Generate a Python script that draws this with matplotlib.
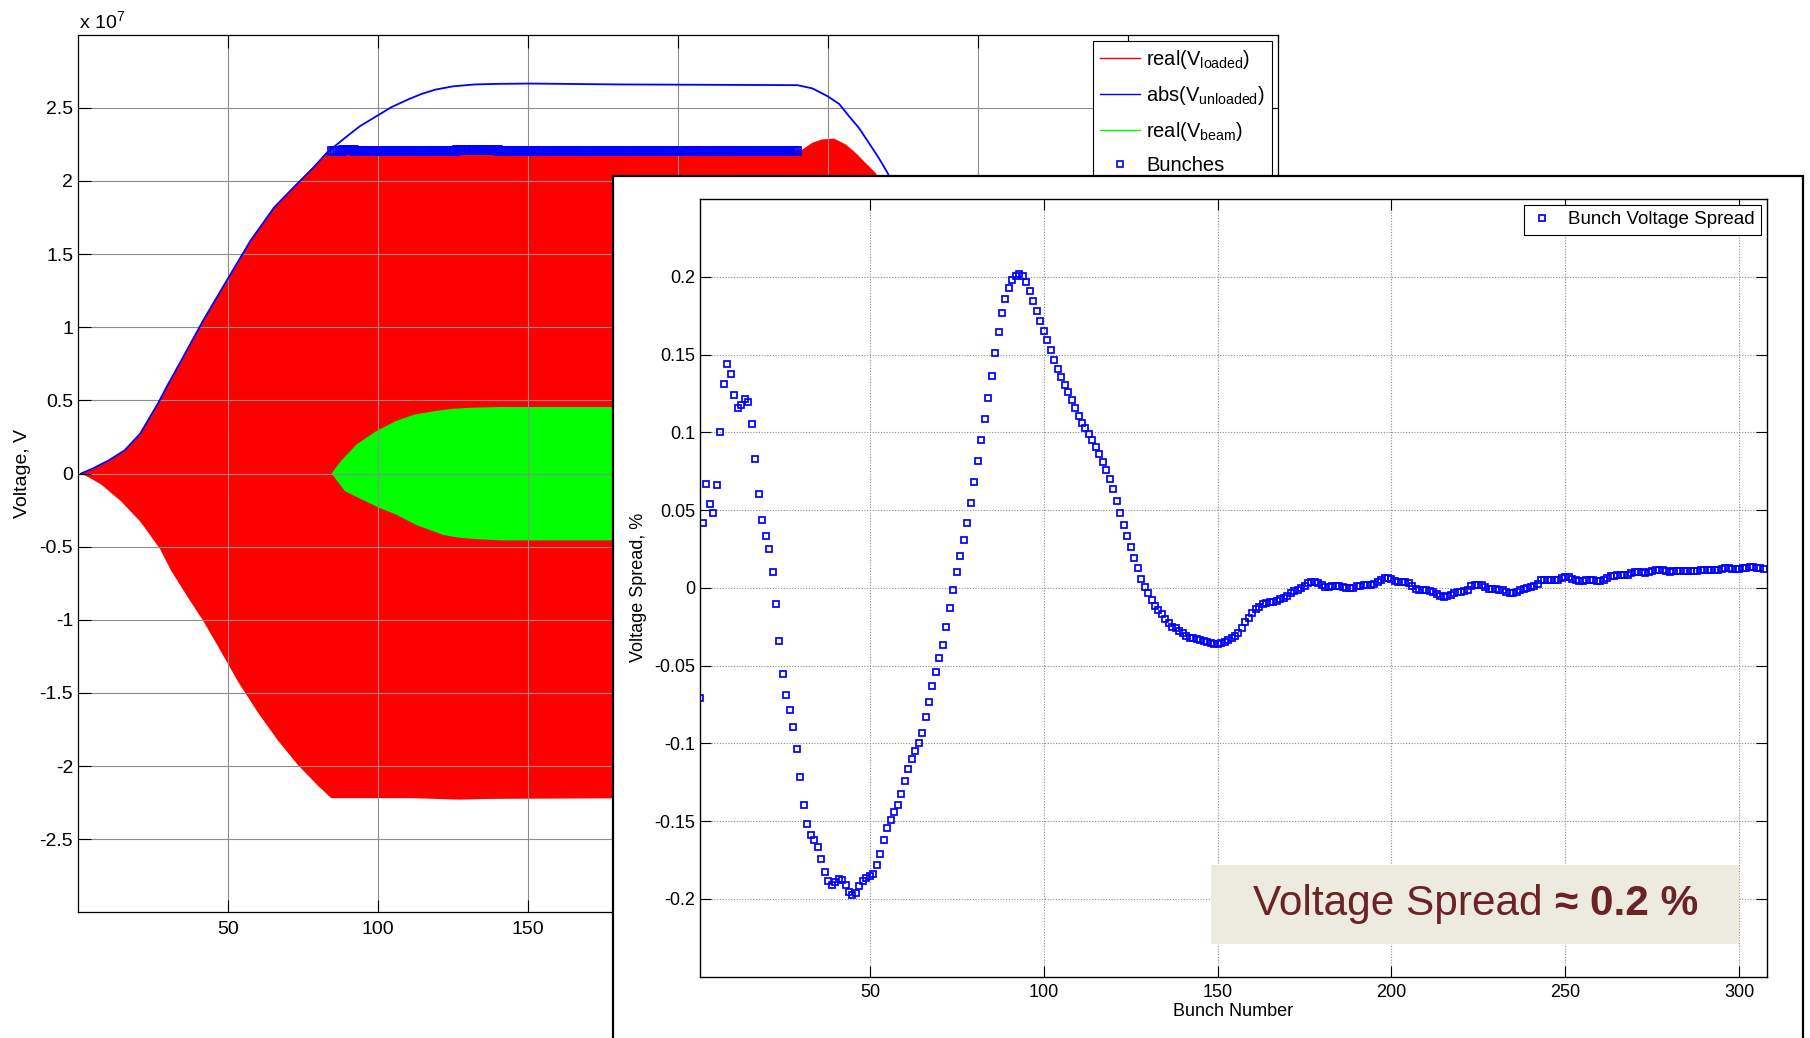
import matplotlib
matplotlib.use("Agg")
import matplotlib.pyplot as plt
import numpy as np
from matplotlib.patches import Rectangle
from matplotlib.lines import Line2D
from matplotlib.text import Annotation
from matplotlib.ticker import FuncFormatter

plt.rcParams['font.family'] = ['Liberation Sans', 'DejaVu Sans']
plt.rcParams['mathtext.fontset'] = 'custom'
plt.rcParams['mathtext.rm'] = 'Liberation Sans'
plt.rcParams['mathtext.it'] = 'Liberation Sans:italic'
plt.rcParams['axes.unicode_minus'] = False

# ---- back plot: cavity voltage envelopes (x 1e7 V)
t_unloaded = [1, 5, 10.2, 15.5, 20.7, 23.5, 26.6, 30, 33.8, 41.7, 49.6, 57.5, 65.4, 71.9, 78.5, 83.1,
              89, 94, 99.5, 104.5, 110, 114.5, 119.2, 125, 132.3, 140, 150.7, 180.6, 239.8, 244.8,
              249.8, 253.7, 257, 260.3, 263.6, 266.9, 270, 280, 300, 330, 370, 400]
v_unloaded = [0, 0.035, 0.09, 0.158, 0.272, 0.37, 0.477, 0.61, 0.75, 1.046, 1.32, 1.592, 1.82, 1.957,
              2.093, 2.196, 2.295, 2.375, 2.443, 2.505, 2.557, 2.595, 2.625, 2.647, 2.66, 2.664,
              2.666, 2.66, 2.655, 2.633, 2.58, 2.527, 2.443, 2.363, 2.261, 2.158, 2.05, 1.6, 0.9,
              0.35, 0.08, 0.03]

t_loaded_top = [1, 5, 10.2, 15.5, 20.7, 23.5, 26.6, 30, 33.8, 41.7, 49.6, 57.5, 65.4, 71.9, 78.5, 83.1,
                100, 130, 160, 200, 241.5, 244.8, 248, 252, 255.9, 259.2, 262.5, 265.3, 268,
                275, 290, 320, 360, 400]
v_loaded_top = [0, 0.03, 0.087, 0.155, 0.269, 0.367, 0.474, 0.607, 0.747, 1.043, 1.316, 1.589, 1.817,
                1.954, 2.09, 2.19, 2.185, 2.19, 2.19, 2.19, 2.216, 2.261, 2.284, 2.29, 2.25, 2.193,
                2.124, 2.068, 2.0, 1.75, 1.2, 0.6, 0.25, 0.1]
t_loaded_bot = [1, 3.5, 7.6, 14.2, 20.7, 24, 27.3, 31.2, 36.5, 41.7, 47, 53.5, 60.1, 66.7, 73.2,
                79.8, 84.4, 111.3, 127, 137.6, 180, 241.5, 260, 290, 330, 400]
v_loaded_bot = [0, -0.025, -0.073, -0.187, -0.327, -0.42, -0.514, -0.67, -0.842, -1.006, -1.193,
                -1.428, -1.638, -1.826, -1.99, -2.13, -2.219, -2.219, -2.229, -2.224, -2.22, -2.22,
                -2.1, -1.2, -0.5, -0.1]

t_beam_top = [84.5, 87.7, 92.9, 99.5, 106.1, 112, 119.2, 125, 132.3, 141.5, 241.5, 260, 290, 330]
v_beam_top = [0, 0.087, 0.2, 0.291, 0.36, 0.402, 0.428, 0.443, 0.451, 0.455, 0.455, 0.35, 0.15, 0.03]
t_beam_bot = [84.5, 89, 95.5, 100.5, 106, 112.6, 121.8, 127, 132.3, 141.5, 241.5, 260, 290, 330]
v_beam_bot = [0, -0.12, -0.186, -0.235, -0.28, -0.35, -0.42, -0.438, -0.448, -0.457, -0.457,
              -0.35, -0.15, -0.03]

# bunch train on the back plot
bunch_t_first = 84.8
bunch_t_last = 239.7
v_bunch_nominal = 2.206  # x 1e7 V

# ---- inset: bunch voltage spread, % (one value per bunch)
spread = [
    -0.0705, 0.042, 0.0667, 0.054, 0.0479, 0.0663, 0.1005, 0.1311, 0.1436, 0.1373,
    0.124, 0.1158, 0.1177, 0.1217, 0.1198, 0.1054, 0.0828, 0.0601, 0.0434, 0.0335,
    0.0248, 0.0104, -0.0106, -0.0344, -0.0552, -0.0691, -0.0788, -0.0894, -0.1038, -0.1219,
    -0.1396, -0.1521, -0.1587, -0.1623, -0.1667, -0.1743, -0.1825, -0.1887, -0.1908, -0.1889,
    -0.1873, -0.1877, -0.1908, -0.1953, -0.1972, -0.196, -0.1917, -0.1884, -0.1868, -0.1854,
    -0.184, -0.1783, -0.171, -0.162, -0.1543, -0.149, -0.1443, -0.1394, -0.1328, -0.1243,
    -0.1166, -0.1102, -0.1049, -0.0995, -0.0931, -0.0832, -0.0731, -0.0628, -0.0541, -0.0452,
    -0.0365, -0.0254, -0.0132, -0.0013, 0.0105, 0.0207, 0.031, 0.042, 0.0546, 0.0681,
    0.0817, 0.0951, 0.1086, 0.1218, 0.1361, 0.151, 0.1648, 0.1766, 0.1857, 0.193,
    0.1979, 0.2008, 0.2017, 0.2006, 0.1964, 0.1908, 0.1844, 0.178, 0.1714, 0.1653,
    0.1592, 0.1527, 0.1466, 0.1406, 0.1355, 0.1305, 0.1258, 0.1207, 0.1154, 0.1106,
    0.1062, 0.103, 0.0991, 0.0951, 0.0908, 0.086, 0.0808, 0.0757, 0.07, 0.0636,
    0.0561, 0.0482, 0.0403, 0.0333, 0.026, 0.0194, 0.0126, 0.006, 0.0007, -0.0036,
    -0.0075, -0.0117, -0.0143, -0.017, -0.0202, -0.0228, -0.025, -0.026, -0.0277, -0.0292,
    -0.0309, -0.032, -0.0324, -0.033, -0.0335, -0.0341, -0.0345, -0.0352, -0.036, -0.036,
    -0.0356, -0.0345, -0.0335, -0.0324, -0.0309, -0.029, -0.026, -0.0222, -0.0196, -0.016,
    -0.0136, -0.0121, -0.0104, -0.0096, -0.0091, -0.0089, -0.0085, -0.0074, -0.0068, -0.0053,
    -0.0036, -0.0021, -0.0011, 0.0, 0.0013, 0.0028, 0.0036, 0.004, 0.0032, 0.0021,
    0.0006, 0.0006, 0.0009, 0.0011, 0.0009, 0.0004, 0.0, -0.0004, 0.0, 0.0009,
    0.0015, 0.0019, 0.0021, 0.0021, 0.0023, 0.0036, 0.0053, 0.0062, 0.0064, 0.006,
    0.0047, 0.0038, 0.0036, 0.0036, 0.0034, 0.0015, -0.0006, -0.0015, -0.0017, -0.0017,
    -0.0019, -0.0026, -0.004, -0.0053, -0.0058, -0.0053, -0.0043, -0.003, -0.0026, -0.0026,
    -0.0021, -0.0011, 0.0011, 0.0021, 0.0021, 0.0019, 0.0006, -0.0006, -0.0009, -0.0009,
    -0.0011, -0.0015, -0.0028, -0.0036, -0.0034, -0.0026, -0.0015, -0.0009, -0.0002, 0.0004,
    0.0013, 0.0026, 0.0049, 0.0049, 0.0049, 0.0049, 0.0051, 0.0053, 0.0062, 0.007,
    0.007, 0.0058, 0.0049, 0.0047, 0.0047, 0.0049, 0.0051, 0.0051, 0.0047, 0.0045,
    0.0049, 0.0062, 0.0075, 0.0079, 0.0081, 0.0081, 0.0081, 0.0083, 0.0096, 0.0102,
    0.0102, 0.01, 0.0098, 0.01, 0.0107, 0.0115, 0.0117, 0.0115, 0.0107, 0.0102,
    0.0107, 0.0111, 0.0111, 0.0111, 0.0109, 0.0107, 0.0107, 0.0109, 0.0113, 0.0115,
    0.0115, 0.0113, 0.0113, 0.0115, 0.0122, 0.0126, 0.0126, 0.0124, 0.0124, 0.0124,
    0.0126, 0.013, 0.0132, 0.0132, 0.013, 0.0126, 0.012,
]

back_xticks = [50, 100, 150, 200, 250, 300, 350, 400]
back_yticks = [-2.5, -2, -1.5, -1, -0.5, 0, 0.5, 1, 1.5, 2, 2.5]
inset_xticks = [50, 100, 150, 200, 250, 300]
inset_yticks = [-0.2, -0.15, -0.1, -0.05, 0, 0.05, 0.1, 0.15, 0.2]

W, H = 1810, 1038
fig = plt.figure(figsize=(W / 100, H / 100), dpi=100)


def fx(px):
    return px / W


def fy(py):
    return 1 - py / H


RED, GREEN, BLUE = (1, 0, 0), (0, 1, 0), (0, 0, 1)
E7 = 1e7

# ---------------- back axes
ax = fig.add_axes([fx(78), fy(912.4), fx(1200), 877.7 / H], zorder=0)
ax.fill(np.r_[t_loaded_top, t_loaded_bot[::-1]],
        np.r_[v_loaded_top, v_loaded_bot[::-1]] * E7, color=RED, lw=0)
ax.fill(np.r_[t_beam_top, t_beam_bot[::-1]],
        np.r_[v_beam_top, v_beam_bot[::-1]] * E7, color=GREEN, lw=0)
ax.plot(t_unloaded, np.array(v_unloaded) * E7, color=BLUE, lw=1.3)

n_bunch = len(spread)
bunch_t = bunch_t_first + (bunch_t_last - bunch_t_first) * np.arange(n_bunch) / (n_bunch - 1)
bunch_v = v_bunch_nominal * E7 * (1 + np.array(spread) / 100)
ax.plot(bunch_t, bunch_v, ls='none', marker='s', ms=5.5, mfc='none', mec=BLUE, mew=1.2)

ax.set_xlim(0, 400)
ax.set_ylim(-3e7, 3e7)
ax.set_xticks(back_xticks)
ax.set_yticks(np.array(back_yticks) * E7)
ax.yaxis.set_major_formatter(FuncFormatter(lambda v, p: f'{v / E7 + 0.0:g}'))
ax.tick_params(direction='in', top=True, right=True, length=9, width=0.8, labelsize=14)
ax.tick_params(axis='y', pad=3.5)
ax.tick_params(axis='x', pad=6.5)
ax.grid(True, color='#8c8c8c', lw=0.8)
for s in ax.spines.values():
    s.set_linewidth(0.9)
ax.set_ylabel('Voltage, V', fontsize=14, labelpad=6)
fig.text(fx(79), fy(28.3), r'x 10$^{\mathregular{7}}$', fontsize=14, va='baseline')

handles = [Line2D([], [], color=RED, lw=1),
           Line2D([], [], color=BLUE, lw=1),
           Line2D([], [], color=GREEN, lw=1),
           Line2D([], [], ls='none', marker='s', ms=4.5, mfc='none', mec=BLUE, mew=1.2)]
labels = [r'real($\mathregular{V_{loaded}}$)', r'abs($\mathregular{V_{unloaded}}$)',
          r'real($\mathregular{V_{beam}}$)', 'Bunches']
leg = ax.legend(handles, labels, loc='upper right', fontsize=14.5, fancybox=False,
                edgecolor='black', framealpha=1, borderaxespad=0.3, borderpad=0.35,
                handlelength=2.0, handletextpad=0.3, labelspacing=0.65)
leg.get_frame().set_linewidth(0.8)

# ---------------- inset panel
fig.add_artist(Rectangle((fx(613), fy(1045)), fx(1190), (1045 - 176) / H,
                         transform=fig.transFigure, facecolor='white', edgecolor='black',
                         lw=1.6, zorder=1))

ax2 = fig.add_axes([fx(699.5), fy(976.7), fx(1067.5), 777.7 / H], zorder=2)
bunch_no = np.arange(1, n_bunch + 1)
ax2.plot(bunch_no, spread, ls='none', marker='s', ms=4.5, mfc='none', mec=BLUE, mew=1.25,
         label='Bunch Voltage Spread')
ax2.set_xlim(1, 308)
ax2.set_ylim(-0.25, 0.25)
ax2.set_xticks(inset_xticks)
ax2.set_yticks(inset_yticks)
ax2.yaxis.set_major_formatter(FuncFormatter(lambda v, p: f'{round(v, 3) + 0.0:g}'))
ax2.tick_params(direction='in', top=True, right=True, length=8, width=0.8, labelsize=13)
ax2.tick_params(axis='y', pad=3)
ax2.tick_params(axis='x', pad=5)
ax2.grid(True, color='#8a8a8a', lw=0.8, ls=(0, (1, 1.5)))
for s in ax2.spines.values():
    s.set_linewidth(1.0)
ax2.set_xlabel('Bunch Number', fontsize=13, labelpad=2)
ax2.set_ylabel('Voltage Spread, %', fontsize=13, labelpad=5)
leg2 = ax2.legend(loc='upper right', fontsize=13.5, fancybox=False, edgecolor='black',
                  framealpha=1, borderaxespad=0.3, borderpad=0.35, handlelength=1.2,
                  handletextpad=0.8)
leg2.get_frame().set_linewidth(0.8)

# ---------------- annotation box
fig.add_artist(Rectangle((fx(1211), fy(944.3)), fx(528), (944.3 - 865) / H,
                         transform=fig.transFigure, facecolor='#edeae0', edgecolor='none',
                         zorder=5))
note_color = '#6b2325'
t1 = fig.text(fx(1252.5), fy(915), 'Voltage Spread', fontsize=30.5, color=note_color,
              va='baseline', zorder=6)
t2 = Annotation('\u2248 0.2 %', xy=(1, 0), xycoords=t1, xytext=(9, 0),
                textcoords='offset points', fontsize=30.5, fontweight='bold', color=note_color,
                va='bottom', ha='left', zorder=6)
fig.add_artist(t2)

fig.savefig('out.png', dpi=100)
